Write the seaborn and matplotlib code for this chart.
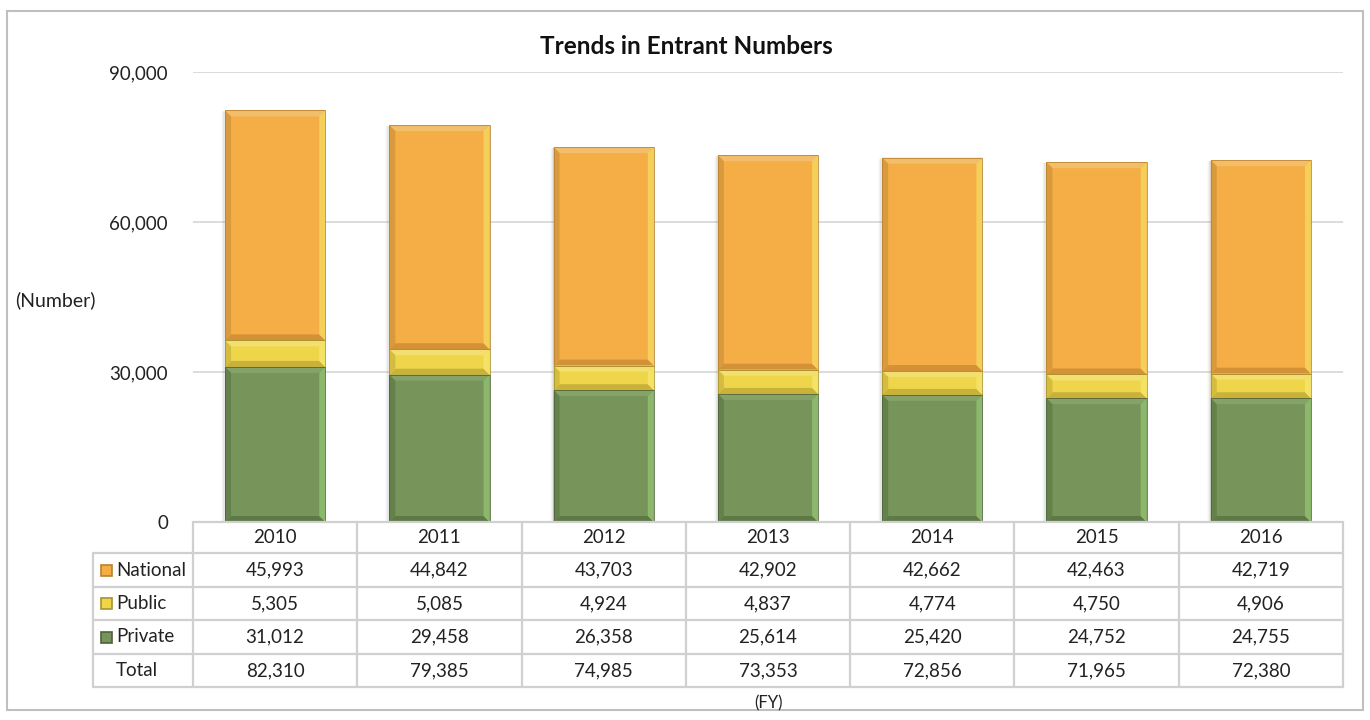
import matplotlib
matplotlib.use("Agg")
import matplotlib.pyplot as plt
import matplotlib.transforms as mtransforms
from matplotlib.patches import Rectangle, Polygon
import seaborn as sns
import pandas as pd
import numpy as np

years = ["2010", "2011", "2012", "2013", "2014", "2015", "2016"]
national = [45993, 44842, 43703, 42902, 42662, 42463, 42719]
public = [5305, 5085, 4924, 4837, 4774, 4750, 4906]
private = [31012, 29458, 26358, 25614, 25420, 24752, 24755]
totals = [82310, 79385, 74985, 73353, 72856, 71965, 72380]
series_names = ["National", "Public", "Private"]

title = "Trends in Entrant Numbers"
ylabel = "(Number)"
xlabel = "(FY)"
yticks = [0, 30000, 60000, 90000]

# colours: main, top bevel, bottom bevel, left bevel, right bevel, outline
palette = {
    "National": ("#F5AE45", "#F3BE6C", "#D39238", "#D99A3E", "#F4CF5A", "#B88230"),
    "Public": ("#EFD54A", "#F3DF70", "#C9B13A", "#D4BC40", "#F4E266", "#A8932C"),
    "Private": ("#77955A", "#85A368", "#5E7846", "#64804B", "#8BB86A", "#4D623A"),
}

sns.set_theme(style="white")
plt.rcParams["font.family"] = ["Lato", "DejaVu Sans"]

W, H = 1370, 720
fig = plt.figure(figsize=(W / 100, H / 100), dpi=100)
fig.patch.set_facecolor("white")

ax_left, ax_right = 193 / W, 1343 / W
ax_top, ax_bottom = 1 - 72 / H, 1 - 522 / H
ax = fig.add_axes([ax_left, ax_bottom, ax_right - ax_left, ax_top - ax_bottom])

df = pd.DataFrame({"year": years, "National": national, "Public": public, "Private": private})
df["cum_private"] = df["Private"]
df["cum_public"] = df["Private"] + df["Public"]
df["cum_national"] = df["cum_public"] + df["National"]

bar_w = 0.61
layers = [("cum_national", "National"), ("cum_public", "Public"), ("cum_private", "Private")]
for col, name in layers:
    sns.barplot(data=df, x="year", y=col, color=palette[name][0], width=bar_w,
                saturation=1, ax=ax, edgecolor="none", zorder=3)

ax.set_xlim(-0.5, len(years) - 0.5)
ax.set_ylim(0, 90000)
ax.set_yticks(yticks)
ax.set_yticklabels([f"{v:,}" for v in yticks], fontsize=13.5, color="#222222")
ax.tick_params(axis="y", length=0, pad=18)
ax.tick_params(axis="x", length=0, labelbottom=False)
ax.set_xlabel("")
ax.set_ylabel("")
for s in ax.spines.values():
    s.set_visible(False)
ax.grid(False)
for v in yticks[1:]:
    ax.axhline(v, color="#D9D9D9", lw=1.3, zorder=1)

# bevel decoration, derived from segment geometry
fig.canvas.draw()
px_x = 1.0 / (ax.transData.transform((1, 0))[0] - ax.transData.transform((0, 0))[0])
px_y = 1.0 / (ax.transData.transform((0, 1))[1] - ax.transData.transform((0, 0))[1])
bx, by = 6 * px_x, 6 * px_y
for i in range(len(years)):
    x0 = i - bar_w / 2
    x1 = i + bar_w / 2
    # soft shadow
    for k, a in enumerate([0.10, 0.06, 0.03]):
        off = (k + 2)
        ax.add_patch(Rectangle((x0 - off * px_x, 0), bar_w, totals[i] - off * px_y * 0.3,
                               facecolor="#7F7F7F", alpha=a, edgecolor="none", zorder=2))
    bottoms = [df["cum_public"][i], df["cum_private"][i], 0]
    tops = [df["cum_national"][i], df["cum_public"][i], df["cum_private"][i]]
    for name, b, t in zip(series_names, bottoms, tops):
        main, topc, botc, leftc, rightc, outc = palette[name]
        ax.add_patch(Polygon([(x0, t), (x1, t), (x1 - bx, t - by), (x0 + bx, t - by)],
                             closed=True, facecolor=topc, edgecolor="none", zorder=4))
        ax.add_patch(Polygon([(x0, b), (x1, b), (x1 - bx, b + by), (x0 + bx, b + by)],
                             closed=True, facecolor=botc, edgecolor="none", zorder=4))
        ax.add_patch(Polygon([(x0, b), (x0, t), (x0 + bx, t - by), (x0 + bx, b + by)],
                             closed=True, facecolor=leftc, edgecolor="none", zorder=4))
        ax.add_patch(Polygon([(x1, b), (x1, t), (x1 - bx, t - by), (x1 - bx, b + by)],
                             closed=True, facecolor=rightc, edgecolor="none", zorder=4))
        ax.add_patch(Rectangle((x0, b), bar_w, t - b, facecolor="none",
                               edgecolor=outc, lw=0.7, alpha=0.8, zorder=5))

# title and axis texts
fig.text(686 / W, 1 - 47 / H, title, ha="center", va="center", fontsize=17.5,
         fontweight="bold", color="#111111")
fig.text(55 / W, 1 - 300 / H, ylabel, ha="center", va="center", fontsize=14, color="#222222")
fig.text(768 / W, 1 - 703 / H, xlabel, ha="center", va="center", fontsize=12, color="#222222")

# data table below the plot
tr = mtransforms.blended_transform_factory(ax.transData, fig.transFigure)
line_c = "#D0D0D0"
row_edges_px = [522, 553, 587, 620, 654, 687]
row_edges = [1 - p / H for p in row_edges_px]
label_left = 93 / W
ncol = len(years)

fig.add_artist(plt.Line2D([-0.5, ncol - 0.5], [row_edges[0]] * 2, transform=tr,
                          color=line_c, lw=1.6))
for y in row_edges[1:]:
    fig.add_artist(plt.Line2D([label_left, ax_right], [y, y], transform=fig.transFigure,
                              color=line_c, lw=1.6))
for j in range(ncol + 1):
    fig.add_artist(plt.Line2D([j - 0.5, j - 0.5], [row_edges[0], row_edges[-1]],
                              transform=tr, color=line_c, lw=1.6))
fig.add_artist(plt.Line2D([label_left, label_left], [row_edges[1], row_edges[-1]],
                          transform=fig.transFigure, color=line_c, lw=1.6))

def mid(r):
    return (row_edges[r] + row_edges[r + 1]) / 2

for j, yr in enumerate(years):
    fig.text(j, mid(0), yr, transform=tr, ha="center", va="center", fontsize=13.5, color="#222222")
rows = [("National", national), ("Public", public), ("Private", private), ("Total", totals)]
for r, (name, vals) in enumerate(rows, start=1):
    for j, v in enumerate(vals):
        fig.text(j, mid(r), f"{v:,}", transform=tr, ha="center", va="center",
                 fontsize=13.5, color="#222222")
    if name in palette:
        sq = 11 / W
        sqh = 11 / H
        fig.add_artist(Rectangle((101 / W, mid(r) - sqh / 2), sq, sqh, transform=fig.transFigure,
                                 facecolor=palette[name][0], edgecolor=palette[name][5], lw=1.2))
    fig.text(116 / W, mid(r), name, ha="left", va="center", fontsize=13.5, color="#222222")

# outer chart border
fig.add_artist(Rectangle((7 / W, 1 - 710 / H), (1363 - 7) / W, (710 - 11) / H,
                         transform=fig.transFigure, facecolor="none", edgecolor="#BFBFBF", lw=1.5))

fig.savefig("out.png", dpi=100, facecolor="white")
